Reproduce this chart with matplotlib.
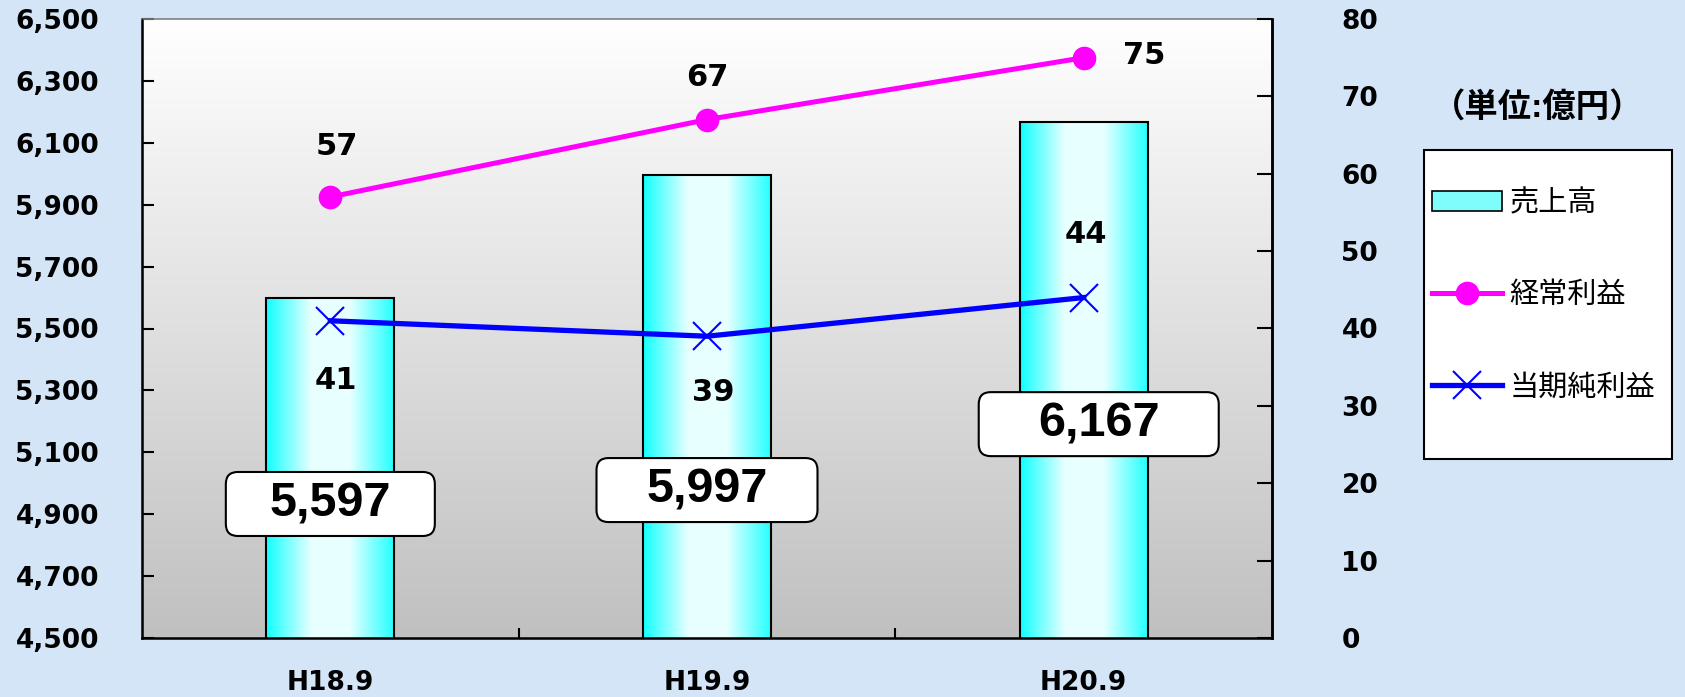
import numpy as np
import matplotlib.pyplot as plt
from matplotlib.colors import LinearSegmentedColormap
from matplotlib.patches import FancyBboxPatch, Rectangle, Patch
from matplotlib.lines import Line2D
from matplotlib.transforms import ScaledTranslation

plt.rcParams['font.family'] = ['Liberation Sans', 'Noto Sans CJK JP']
NUM_FONT = 'DejaVu Sans'

periods = ['H18.9', 'H19.9', 'H20.9']
sales = [5597, 5997, 6167]            # 売上高 (left axis)
ordinary_profit = [57, 67, 75]        # 経常利益 (right axis)
net_profit = [41, 39, 44]             # 当期純利益 (right axis)

left_ticks = np.arange(4500, 6501, 200)
right_ticks = np.arange(0, 81, 10)

# layout of the annotation boxes / labels (pixels, inches, data)
box_y = [4933, 4978, 5191]
box_dx = [0.0, 0.0, 0.04]
box_w = [2.09, 2.21, 2.40]
op_offsets = [(6, 50), (0, 42), (61, 2)]
np_offsets = [(6, -60), (6, -56), (2, 63)]

W, H = 1685, 697
fig = plt.figure(figsize=(W / 100, H / 100), dpi=100)
fig.patch.set_facecolor('#d4e5f8')
ax = fig.add_axes([142 / W, 59 / H, 1130 / W, 619 / H])

# plot area gradient: white top -> grey bottom
bg = LinearSegmentedColormap.from_list('bg', ['#c0c0c0', '#ffffff'])
ax.imshow(np.linspace(0, 1, 256).reshape(-1, 1), cmap=bg, origin='lower',
          extent=[0, 1, 0, 1], transform=ax.transAxes, aspect='auto', zorder=0)

x = np.arange(len(periods))
bars = ax.bar(x, sales, width=0.34, facecolor='none', edgecolor='black',
              linewidth=1.5, zorder=3)
barcm = LinearSegmentedColormap.from_list(
    'bar', [(0, '#10ffff'), (0.35, '#e8ffff'), (0.65, '#e8ffff'), (1, '#20ffff')])
grad = np.linspace(0, 1, 256).reshape(1, -1)
for b in bars:
    x0, w, h = b.get_x(), b.get_width(), b.get_height()
    im = ax.imshow(grad, cmap=barcm, extent=[x0, x0 + w, 4500, h],
                   aspect='auto', zorder=2)
    im.set_clip_path(b)

ax.set_xlim(-0.5, 2.5)
ax.set_ylim(4500, 6500)
ax.set_yticks(left_ticks)
ax.set_yticklabels([f'{v:,}' for v in left_ticks])
ax.set_xticks(x)
ax.set_xticklabels(periods)
ax.set_xticks([0.5, 1.5], minor=True)
ax.tick_params(axis='y', direction='in', length=8.6, width=1.5,
               labelsize=19, pad=31)
ax.tick_params(axis='x', which='major', length=0, labelsize=19, pad=23)
ax.tick_params(axis='x', which='minor', direction='in', length=7, width=1.5)
for lab in ax.get_xticklabels() + ax.get_yticklabels():
    lab.set_fontweight('bold')
    lab.set_family(NUM_FONT)
for s in ['left', 'bottom', 'right']:
    ax.spines[s].set_linewidth(1.8)
ax.spines['top'].set_color('#808080')
ax.spines['top'].set_linewidth(1.2)

# value boxes on bars
for i, v in enumerate(sales):
    cx, cy = x[i] + box_dx[i], box_y[i]
    tr = fig.dpi_scale_trans + ScaledTranslation(cx, cy, ax.transData)
    ax.add_patch(FancyBboxPatch((-box_w[i] / 2, -0.32), box_w[i], 0.64,
                                boxstyle='round,pad=0,rounding_size=0.12',
                                transform=tr, facecolor='white',
                                edgecolor='black', linewidth=1.5, zorder=5))
    ax.text(cx, cy, f'{v:,}', ha='center', va='center', fontsize=35,
            fontweight='bold', zorder=6)

ax2 = ax.twinx()
ax2.set_ylim(0, 80)
ax2.set_yticks(right_ticks)
ax2.tick_params(axis='y', direction='in', length=10.8, width=1.5,
                labelsize=19, pad=50)
for lab in ax2.get_yticklabels():
    lab.set_fontweight('bold')
    lab.set_family(NUM_FONT)
ax2.spines['right'].set_linewidth(1.8)
ax2.spines['top'].set_visible(False)

ax2.plot(x, ordinary_profit, color='#ff00ff', linewidth=3.6, marker='o',
         markersize=16, zorder=4)
ax2.plot(x, net_profit, color='#0000ff', linewidth=3.8, marker='x',
         markersize=20, markeredgewidth=1.5, zorder=4)
for i in range(len(x)):
    ax2.annotate(str(ordinary_profit[i]), (x[i], ordinary_profit[i]),
                 xytext=op_offsets[i], textcoords='offset pixels',
                 ha='center', va='center', fontsize=22, fontweight='bold',
                 family=NUM_FONT)
    ax2.annotate(str(net_profit[i]), (x[i], net_profit[i]),
                 xytext=np_offsets[i], textcoords='offset pixels',
                 ha='center', va='center', fontsize=22, fontweight='bold',
                 family=NUM_FONT)

# unit + legend
fig.text(1538 / W, 1 - 108 / H, '（単位:億円）', ha='center', va='center',
         fontsize=24, fontweight='bold')
fig.patches.append(Rectangle((1424 / W, 1 - 459 / H), 248 / W, 309 / H,
                             transform=fig.transFigure, facecolor='white',
                             edgecolor='black', linewidth=1.5, zorder=1))
handles = [
    Patch(facecolor='#7ffcfc', edgecolor='black', linewidth=1.2),
    Line2D([], [], color='#ff00ff', linewidth=3.6, marker='o', markersize=16),
    Line2D([], [], color='#0000ff', linewidth=3.8, marker='x', markersize=20,
           markeredgewidth=1.5),
]
fig.legend(handles, ['売上高', '経常利益', '当期純利益'], loc='upper left',
           bbox_to_anchor=(1432 / W, 1 - 189 / H), frameon=False,
           fontsize=21, handlelength=2.4, handletextpad=0.25,
           labelspacing=2.2, borderpad=0, borderaxespad=0)

fig.savefig('out.png', dpi=100, facecolor=fig.get_facecolor())
